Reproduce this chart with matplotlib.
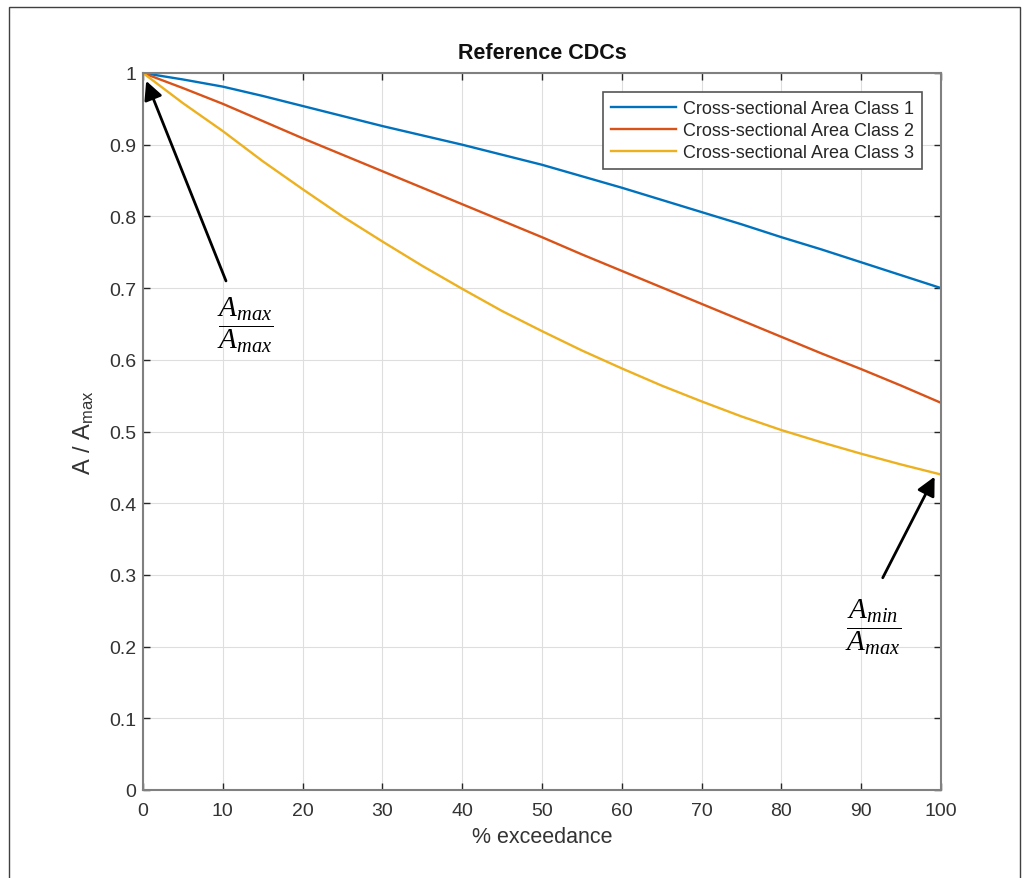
import numpy as np
import matplotlib
matplotlib.use('Agg')
import matplotlib.pyplot as plt
from matplotlib.patches import Rectangle

plt.rcParams['font.family'] = ['Liberation Sans', 'DejaVu Sans']
plt.rcParams['mathtext.fontset'] = 'custom'
plt.rcParams['mathtext.rm'] = 'Liberation Sans'
plt.rcParams['mathtext.it'] = 'Liberation Serif:italic'

# % exceedance and normalised area
exceed = [0, 5, 10, 15, 20, 25, 30, 35, 40, 45, 50,
          55, 60, 65, 70, 75, 80, 85, 90, 95, 100]
class1 = [1.000, 0.991, 0.981, 0.968, 0.954, 0.940, 0.926, 0.913, 0.900, 0.886, 0.872,
          0.856, 0.840, 0.823, 0.806, 0.789, 0.771, 0.754, 0.736, 0.718, 0.700]
class2 = [1.000, 0.979, 0.957, 0.933, 0.909, 0.886, 0.863, 0.840, 0.817, 0.794, 0.771,
          0.747, 0.724, 0.701, 0.678, 0.655, 0.632, 0.609, 0.587, 0.564, 0.540]
class3 = [1.000, 0.958, 0.919, 0.877, 0.838, 0.800, 0.765, 0.731, 0.699, 0.668, 0.640,
          0.613, 0.588, 0.564, 0.542, 0.521, 0.502, 0.485, 0.469, 0.454, 0.440]
labels = ['Cross-sectional Area Class 1', 'Cross-sectional Area Class 2',
          'Cross-sectional Area Class 3']
colors = ['#0072BD', '#D95319', '#EDB120']

fig = plt.figure(figsize=(10.27, 8.79), dpi=100)
ax = fig.add_axes([143 / 1027, 1 - 791 / 879, 798 / 1027, 717 / 879])

for ys, lab, c in zip([class1, class2, class3], labels, colors):
    ax.plot(exceed, ys, color=c, lw=1.7, label=lab)

ax.set_xlim(0, 100)
ax.set_ylim(0, 1)
ax.set_xticks(np.arange(0, 101, 10))
ax.set_yticks(np.arange(0, 1.01, 0.1))
ax.set_yticklabels(['0', '0.1', '0.2', '0.3', '0.4', '0.5', '0.6', '0.7', '0.8', '0.9', '1'])
ax.grid(True, color='#dedede', lw=0.8)
ax.set_axisbelow(True)
ax.tick_params(direction='in', length=5, width=1, colors='#262626', labelcolor='#333333',
               labelsize=14, top=True, right=True)
ax.tick_params(axis='x', pad=8.5)
ax.tick_params(axis='y', pad=5)
for s in ax.spines.values():
    s.set_color('#808080')
    s.set_linewidth(1.5)

ax.set_title('Reference CDCs', fontsize=15.5, fontweight='bold', color='#111111', pad=10.5)
ax.set_xlabel('% exceedance', fontsize=15.5, color='#333333', labelpad=5)
ax.set_ylabel(r'A / A$_{\mathrm{max}}$', fontsize=17, color='#333333', labelpad=9)

leg = ax.legend(loc='upper right', bbox_to_anchor=(922 / 1027, 1 - 93 / 879),
                bbox_transform=fig.transFigure, borderaxespad=0, fontsize=13,
                handlelength=3.6, labelspacing=0.28, handletextpad=0.4,
                fancybox=False, framealpha=1, borderpad=0.45)
leg.get_frame().set_edgecolor('#555555')
leg.get_frame().set_linewidth(1.2)
for t in leg.get_texts():
    t.set_color('#262626')

frac_max = r'$\dfrac{A_{max}}{A_{max}}$'
frac_min = r'$\dfrac{A_{min}}{A_{max}}$'
ax.annotate('', xy=(0.4, 0.989), xytext=(10.4, 0.710),
            arrowprops=dict(arrowstyle='-|>', color='black', lw=2, mutation_scale=28,
                            shrinkA=0, shrinkB=0), annotation_clip=False)
ax.text(12.8, 0.649, frac_max, fontsize=21, ha='center', va='center')
ax.annotate('', xy=(99.2, 0.437), xytext=(92.7, 0.296),
            arrowprops=dict(arrowstyle='-|>', color='black', lw=2, mutation_scale=28,
                            shrinkA=0, shrinkB=0), annotation_clip=False)
ax.text(91.5, 0.229, frac_min, fontsize=21, ha='center', va='center')

fig.patches.append(Rectangle((9 / 1027, -0.05), 1011 / 1027, 1.05 - 8 / 879,
                             transform=fig.transFigure, fill=False,
                             edgecolor='#404040', lw=1))

fig.savefig('out.png', dpi=100)
